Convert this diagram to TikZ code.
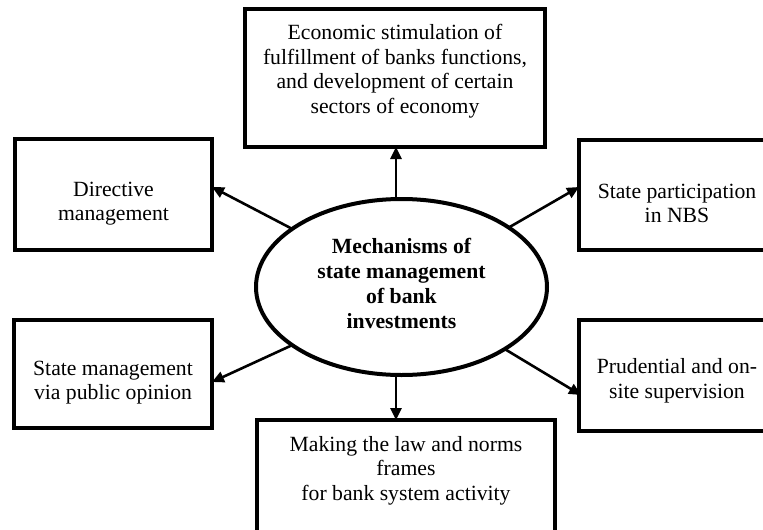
\documentclass[tikz,border=0pt]{standalone}
\usepackage{fontspec}
\setmainfont{Liberation Serif}
\usetikzlibrary{arrows.meta,calc,shapes.geometric}
\begin{document}
\begin{tikzpicture}[x=1pt,y=-1pt,
  every node/.style={font=\fontsize{21.7}{24.5}\selectfont},
  box/.style={draw, line width=4pt, rectangle, align=center, inner sep=0pt, outer sep=0pt},
  arr/.style={line width=2.6pt, -{Triangle[length=12pt,width=11pt]}}]
\useasboundingbox (0,0) rectangle (763,530);
\node[box, minimum width=300pt, minimum height=138pt, text depth=18.7pt] (topb) at (395,78)
  {Economic stimulation of\\fulfillment of banks functions,\\and development of certain\\sectors of economy};
\node[box, minimum width=197pt, minimum height=111pt, text height=57.3pt] (dir) at (113.5,194.5)
  {Directive\\management};
\node[box, minimum width=196pt, minimum height=110pt, text height=55.3pt] (nbs) at (677,195)
  {State participation\\in NBS};
\node[box, minimum width=198pt, minimum height=108pt, text height=56.3pt] (pub) at (113,374)
  {State management\\via public opinion};
\node[box, minimum width=196pt, minimum height=111pt, text height=50.3pt] (pru) at (677,375.5)
  {Prudential and on-\\site supervision};
\node[box, minimum width=298pt, minimum height=120pt, text depth=23.7pt] (botb) at (406,480)
  {Making the law and norms\\frames\\for bank system activity};
\node[draw, ellipse, line width=4pt, minimum width=291pt, minimum height=176pt,
  inner sep=0pt, outer sep=0pt, align=center, text depth=8pt,
  font=\fontsize{21.7}{25}\selectfont\bfseries] (ell) at (401.5,287)
  {Mechanisms of\\state management\\of bank\\investments};
\coordinate (bx) at (396,0);
\draw[arr] (ell.north -| bx) -- (topb.south -| bx);
\draw[arr] (ell.south -| bx) -- (botb.north -| bx);
\draw[arr] (ell.152) -- ($(dir.east)+(0,-7.5)$);
\draw[arr] (ell.29) -- ($(nbs.west)+(0,-8)$);
\draw[arr] (ell.208) -- ($(pub.east)+(0,8)$);
\draw[arr] (ell.329) -- ($(pru.west)+(2,19.5)$);
\end{tikzpicture}
\end{document}
